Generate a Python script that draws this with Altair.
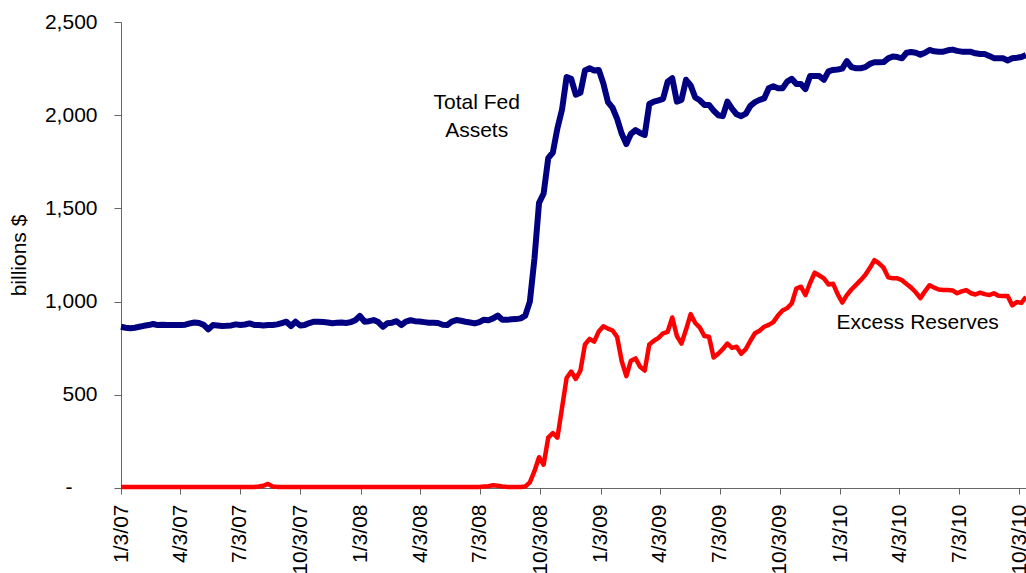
import altair as alt
import pandas as pd

# Weekly observations (Wednesdays), 1/3/2007 .. 10/13/2010
dates = [d.strftime("%Y-%m-%d") for d in pd.date_range("2007-01-03", "2010-10-13", freq="7D")]

total_fed_assets = [
    865, 860, 857, 860, 865, 870, 874, 880, 874, 876,
    874, 874, 874, 874, 876, 883, 888, 885, 875, 851,
    874, 872, 869, 870, 872, 878, 874, 877, 883, 875,
    874, 872, 874, 874, 878, 885, 892, 869, 892, 872,
    875, 885, 892, 892, 890, 888, 884, 886, 888, 885,
    890, 900, 923, 892, 895, 901, 890, 865, 884, 887,
    895, 874, 893, 900, 895, 893, 890, 887, 887, 885,
    876, 874, 893, 901, 897, 892, 888, 883, 890, 903,
    900, 910, 925, 903, 902, 905, 906, 910, 925, 1000,
    1230, 1530, 1580, 1770, 1800, 1930, 2030, 2205, 2195, 2110,
    2120, 2240, 2252, 2240, 2243, 2170, 2070, 2040, 1980, 1900,
    1845, 1900, 1920, 1905, 1894, 2060, 2073, 2080, 2088, 2180,
    2198, 2073, 2082, 2190, 2160, 2095, 2080, 2055, 2055, 2025,
    2000, 1995, 2073, 2035, 2005, 1995, 2008, 2050, 2070, 2082,
    2090, 2144, 2155, 2145, 2144, 2180, 2195, 2168, 2167, 2140,
    2210, 2210, 2210, 2190, 2235, 2243, 2245, 2250, 2290, 2258,
    2252, 2252, 2258, 2275, 2284, 2284, 2285, 2305, 2315, 2312,
    2305, 2335, 2339, 2335, 2325, 2335, 2350, 2343, 2341, 2341,
    2348, 2352, 2345, 2341, 2341, 2340, 2332, 2328, 2328, 2318,
    2306, 2305, 2305, 2294, 2305, 2308, 2312, 2323,
]

excess_reserves = [
    5, 5, 6, 5, 5, 6, 5, 5, 5, 5,
    5, 6, 5, 5, 5, 5, 5, 5, 5, 5,
    5, 5, 5, 5, 5, 5, 5, 5, 6, 5,
    8, 12, 22, 8, 6, 5, 5, 5, 5, 5,
    5, 5, 5, 5, 5, 5, 5, 5, 5, 5,
    5, 6, 5, 5, 5, 5, 5, 5, 5, 5,
    5, 5, 5, 5, 5, 5, 5, 5, 5, 5,
    5, 5, 5, 5, 5, 5, 5, 5, 6, 8,
    10, 15, 12, 8, 6, 5, 5, 5, 8, 30,
    90, 165, 125, 270, 295, 270, 430, 590, 625, 585,
    630, 770, 800, 785, 840, 868, 855, 845, 810, 680,
    600, 683, 695, 650, 630, 770, 790, 805, 830, 838,
    915, 815, 775, 850, 933, 885, 860, 815, 812, 700,
    720, 745, 775, 752, 758, 720, 745, 790, 830, 844,
    865, 875, 890, 925, 952, 965, 990, 1070, 1080, 1035,
    1100, 1155, 1140, 1125, 1092, 1096, 1040, 995, 1035, 1065,
    1090, 1115, 1143, 1180, 1222, 1205, 1182, 1130, 1125, 1125,
    1115, 1094, 1075, 1050, 1018, 1055, 1088, 1075, 1065, 1062,
    1062, 1060, 1045, 1055, 1062, 1045, 1038, 1048, 1040, 1035,
    1045, 1032, 1030, 1030, 980, 998, 993, 1026,
]

x_tick_dates = [(2007, 1), (2007, 4), (2007, 7), (2007, 10),
                (2008, 1), (2008, 4), (2008, 7), (2008, 10),
                (2009, 1), (2009, 4), (2009, 7), (2009, 10),
                (2010, 1), (2010, 4), (2010, 7), (2010, 10)]
y_ticks = [0, 500, 1000, 1500, 2000, 2500]

df = pd.DataFrame({"date": dates, "assets": total_fed_assets, "reserves": excess_reserves})

FONT = "Liberation Sans"
FS = 21

x_scale = alt.Scale(type="utc",
                    domain=[alt.DateTime(year=2007, month=1, date=3, utc=True),
                            alt.DateTime(year=2010, month=10, date=13, utc=True)])
x_axis = alt.Axis(values=[alt.DateTime(year=y, month=m, date=3, utc=True) for y, m in x_tick_dates],
                  labelExpr="utcFormat(datum.value, '%-m/%-d/%y')",
                  labelAngle=-90, grid=False,
                  tickSize=6, labelPadding=10, labelFontSize=FS, labelFont=FONT,
                  labelColor="black", domainColor="#666666", tickColor="#666666",
                  labelOverlap=False, labelBound=False, labelFlush=False, title=None)
y_scale = alt.Scale(domain=[0, 2500], nice=False, zero=True)
y_axis = alt.Axis(values=y_ticks, grid=False, tickSize=7, labelPadding=17,
                  labelFontSize=FS, labelFont=FONT, labelColor="black",
                  labelExpr="datum.value == 0 ? '' : format(datum.value, ',')",
                  domainColor="#666666", tickColor="#666666",
                  title="billions $", titleFontSize=FS, titleFont=FONT,
                  titleFontWeight="normal", titleColor="black", titlePadding=15)

base = alt.Chart(df)

assets_line = base.mark_line(color="#000080", strokeWidth=6, strokeJoin="round").encode(
    x=alt.X("date:T", scale=x_scale, axis=x_axis),
    y=alt.Y("assets:Q", scale=y_scale, axis=y_axis),
)
reserves_line = base.mark_line(color="#FF0000", strokeWidth=4.5, strokeJoin="round").encode(
    x=alt.X("date:T", scale=x_scale),
    y=alt.Y("reserves:Q", scale=y_scale),
)

# accounting-style "-" label for the zero tick
zero_label = alt.Chart().mark_text(
    text="-", font=FONT, fontSize=FS, color="black", align="center", baseline="middle",
).encode(x=alt.value(-52), y=alt.datum(0))

label_assets = alt.Chart().mark_text(
    text=["Total Fed", "Assets"], font=FONT, fontSize=FS, color="black",
    align="center", baseline="alphabetic", lineHeight=28,
).encode(
    x=alt.datum(alt.DateTime(year=2008, month=6, date=28, utc=True)),
    y=alt.datum(2033),
)
label_reserves = alt.Chart().mark_text(
    text="Excess Reserves", font=FONT, fontSize=FS, color="black",
    align="center", baseline="alphabetic",
).encode(
    x=alt.datum(alt.DateTime(year=2010, month=5, date=1, utc=True)),
    y=alt.datum(853),
)

chart = alt.layer(assets_line, reserves_line, zero_label, label_assets, label_reserves).properties(
    width=905, height=466,
    autosize=alt.AutoSizeParams(type="none"),
    padding={"left": 121, "top": 22, "right": 0, "bottom": 85},
    background="white",
).configure_view(stroke=None)

chart.save("out.html", embed_options={"renderer": "svg", "actions": False})
